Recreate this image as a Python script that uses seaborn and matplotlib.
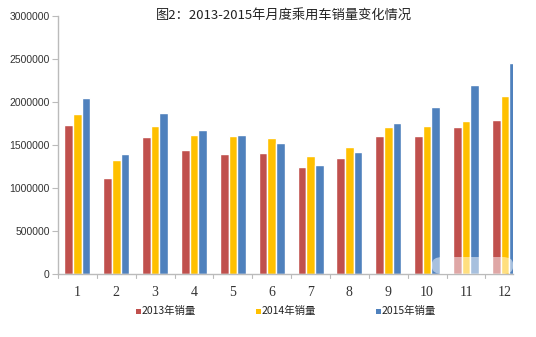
import matplotlib
matplotlib.use("Agg")
import matplotlib.pyplot as plt
import seaborn as sns
import pandas as pd
from matplotlib.patches import FancyBboxPatch

months = [str(i) for i in range(1, 13)]
sales_2013 = [1733000, 1113000, 1593000, 1442000, 1399000, 1403000, 1240000, 1353000, 1601000, 1605000, 1705000, 1787000]
sales_2014 = [1860000, 1322000, 1725000, 1620000, 1601000, 1578000, 1368000, 1480000, 1709000, 1717000, 1783000, 2073000]
sales_2015 = [2047000, 1395000, 1872000, 1674000, 1616000, 1520000, 1267000, 1419000, 1756000, 1942000, 2201000, 2450000]
series_names = ["2013年销量", "2014年销量", "2015年销量"]
colors = ["#C0504D", "#FFC000", "#4F81BD"]
title = "图2：2013-2015年月度乘用车销量变化情况"

rows = []
for name, vals in zip(series_names, [sales_2013, sales_2014, sales_2015]):
    for m, v in zip(months, vals):
        rows.append({"month": m, "series": name, "value": v})
df = pd.DataFrame(rows)

sns.set_theme(style="white")
plt.rcParams['font.family'] = ['Noto Sans CJK SC', 'DejaVu Sans']

fig = plt.figure(figsize=(5.36, 3.37), dpi=100)
ax = fig.add_axes([58/536, 1-274/337, (513-58)/536, (274-16)/337])

sns.barplot(data=df, x="month", y="value", hue="series", palette=colors,
            width=0.67, ax=ax, saturation=1, legend=False)

xmax = 11.21
ax.set_ylim(0, 3000000)
ax.set_xlim(-0.5, xmax)
ax.set_yticks(range(0, 3000001, 500000))
ax.set_yticklabels([str(v) for v in range(0, 3000001, 500000)], fontsize=7.5, color="#333333",
                   family=['Liberation Sans', 'DejaVu Sans'])
ax.set_xlabel("")
ax.set_ylabel("")
ax.set_xticks(range(12))
ax.set_xticklabels(months, fontsize=10, color="#333333", family=['Liberation Serif', 'DejaVu Serif'])
ax.tick_params(axis='x', length=0, pad=9)
ax.tick_params(axis='y', length=4, width=0.8, color="#BBBBBB", pad=2, left=True)
# x boundary ticks
for b in range(13):
    xb = b - 0.5
    if xb <= xmax:
        ax.plot([xb, xb], [0, -0.016], transform=ax.get_xaxis_transform(), color="#BBBBBB",
                lw=0.8, clip_on=False)

for s in ["top", "right"]:
    ax.spines[s].set_visible(False)
for s in ["left", "bottom"]:
    ax.spines[s].set_color("#BBBBBB")
    ax.spines[s].set_linewidth(1.0)

# faded overlay near bottom right
ov = FancyBboxPatch((432/536, 1-274/337), (513-432)/536, 17/337,
                    boxstyle="round,pad=0,rounding_size=0.02",
                    transform=fig.transFigure, facecolor="white", edgecolor="none", alpha=0.5, zorder=10)
fig.patches.append(ov)

fig.text(284/536, 1-15/337, title, ha="center", va="center", fontsize=9.5, color="#222222")

# legend
leg_x = [136, 256, 376]
for x, name, c in zip(leg_x, series_names, colors):
    fig.patches.append(plt.Rectangle((x/536, 1-314/337), 5/536, 5/337, transform=fig.transFigure,
                                     facecolor=c, edgecolor="none"))
    fig.text((x+6)/536, 1-311/337, name, ha="left", va="center", fontsize=7.5, color="#222222")

fig.savefig("out.png", dpi=100)
